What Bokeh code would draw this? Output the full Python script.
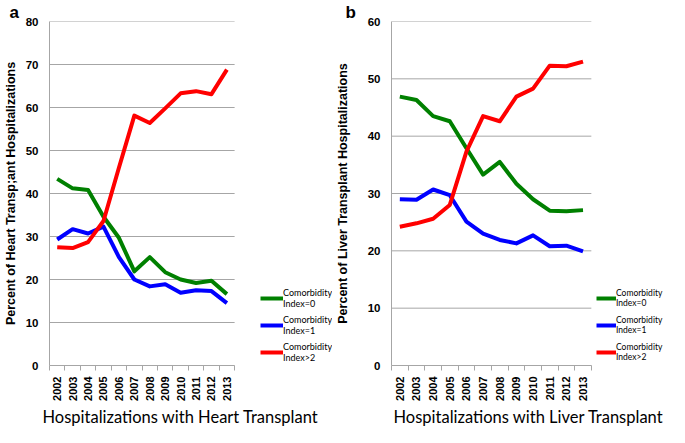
import math
from bokeh.plotting import figure
from bokeh.models import (Range1d, FixedTicker, Legend, LegendItem, Title)
from bokeh.layouts import row
from bokeh.embed import file_html
from bokeh.resources import INLINE

years = ["2002", "2003", "2004", "2005", "2006", "2007",
         "2008", "2009", "2010", "2011", "2012", "2013"]

heart_idx0 = [43.4, 41.2, 40.8, 34.6, 29.7, 21.9, 25.2, 21.7, 20.0, 19.2, 19.7, 16.6]
heart_idx1 = [29.3, 31.7, 30.7, 32.3, 25.2, 20.0, 18.4, 18.9, 16.9, 17.5, 17.3, 14.5]
heart_idx2 = [27.5, 27.3, 28.7, 33.6, 46.0, 58.1, 56.4, 59.8, 63.3, 63.8, 63.1, 68.8]

liver_idx0 = [46.9, 46.3, 43.5, 42.6, 37.9, 33.3, 35.5, 31.7, 29.0, 27.0, 26.9, 27.1]
liver_idx1 = [29.0, 28.9, 30.7, 29.7, 25.1, 23.0, 21.9, 21.3, 22.7, 20.8, 20.9, 19.9]
liver_idx2 = [24.2, 24.8, 25.6, 28.0, 37.3, 43.5, 42.6, 46.9, 48.3, 52.3, 52.2, 53.0]

series_labels = ["Comorbidity\nIndex=0", "Comorbidity\nIndex=1", "Comorbidity\nIndex>2"]
series_colors = ["#008000", "#0000FF", "#FF0000"]

GRID = "#a6a6a6"


def make_panel(letter, series, ymax, ylabel, xlabel, width, left_border, plot_px,
               legend_x, glyph_w, legend_font, title_offset, letter_offset,
               tick_standoff, ylab_standoff):
    n = len(years)
    xs = [i + 0.5 for i in range(n)]
    frame_px = width - left_border
    x_end = n * frame_px / plot_px
    p = figure(output_backend="svg", toolbar_location=None,
               width=width, height=427,
               min_border_left=left_border, min_border_right=0,
               min_border_top=9, min_border_bottom=50,
               x_range=Range1d(0, x_end), y_range=Range1d(0, ymax))
    p.outline_line_color = None
    p.background_fill_color = "white"
    p.border_fill_color = "white"

    # panel letter
    p.title.text = letter
    p.title.align = "left"
    p.title.offset = letter_offset
    p.title.standoff = 0
    p.title.text_font = "Liberation Sans"
    p.title.text_font_size = "17px"
    p.title.text_font_style = "bold"
    p.title.text_color = "black"

    # x axis
    xa = p.xaxis[0]
    xa.bounds = (0, n)
    xa.ticker = FixedTicker(ticks=xs, minor_ticks=list(range(n + 1)))
    xa.major_label_overrides = {x: y for x, y in zip(xs, years)}
    xa.major_label_orientation = math.pi / 2
    xa.major_tick_out = 0
    xa.major_tick_in = 0
    xa.minor_tick_out = 5
    xa.minor_tick_in = 0
    xa.minor_tick_line_color = GRID
    xa.axis_line_color = GRID
    xa.major_label_text_font = "Liberation Sans"
    xa.major_label_text_font_size = "11px"
    xa.major_label_text_font_style = "bold"
    xa.major_label_text_color = "black"
    xa.major_label_standoff = 6

    # y axis
    yticks = list(range(0, ymax + 1, 10))
    ya = p.yaxis[0]
    ya.ticker = FixedTicker(ticks=yticks)
    ya.major_tick_out = 0
    ya.major_tick_in = 0
    ya.minor_tick_line_color = None
    ya.axis_line_color = GRID
    ya.major_label_text_font = "Liberation Sans"
    ya.major_label_text_font_size = "11.5px"
    ya.major_label_text_font_style = "bold"
    ya.major_label_text_color = "black"
    ya.major_label_standoff = tick_standoff
    ya.axis_label = ylabel
    ya.axis_label_text_font = "Liberation Sans"
    ya.axis_label_text_font_size = "12.5px"
    ya.axis_label_text_line_height = 0.9
    ya.axis_label_text_font_style = "bold"
    ya.axis_label_text_color = "black"
    ya.axis_label_standoff = ylab_standoff

    # horizontal gridlines limited to the category span
    p.xgrid.grid_line_color = None
    p.ygrid.grid_line_color = None
    p.segment(x0=[0] * len(yticks), x1=[n] * len(yticks), y0=yticks, y1=yticks,
              line_color=GRID, line_width=1)

    items = []
    for vals, lab, col in zip(series, series_labels, series_colors):
        r = p.line(xs, vals, line_color=col, line_width=4, line_join="round")
        items.append(LegendItem(label=lab, renderers=[r]))

    leg = Legend(items=items, location=(legend_x, 0))
    leg.border_line_color = None
    leg.background_fill_alpha = 0
    leg.padding = 0
    leg.margin = 0
    leg.spacing = 1
    leg.glyph_width = glyph_w
    leg.glyph_height = 26
    leg.label_standoff = 0
    leg.label_text_font = "Lato"
    leg.label_text_font_size = legend_font
    leg.label_text_line_height = 1.35
    leg.label_text_color = "black"
    p.add_layout(leg, "center")

    t = Title(text=xlabel, align="left", offset=title_offset,
              text_font="Lato", text_font_size="16.5px", text_font_style="normal",
              text_color="black", standoff=2)
    p.add_layout(t, "below")
    return p


pa = make_panel("a", [heart_idx0, heart_idx1, heart_idx2], 80,
                "Percent of Heart Transp;ant Hospitalizations",
                "Hospitalizations with Heart Transplant",
                332, 40, 191, 211, 23, "9px", -7, -40, 11, 5)
pb = make_panel("b", [liver_idx0, liver_idx1, liver_idx2], 60,
                "Percent of Liver Transplant Hospitalizations",
                "Hospitalizations with Liver Transplant",
                337, 56, 202, 205, 20, "8.5px", 2, -46, 11, 15)

layout = row(pa, pb)
open("out.html", "w").write(file_html(layout, INLINE))
